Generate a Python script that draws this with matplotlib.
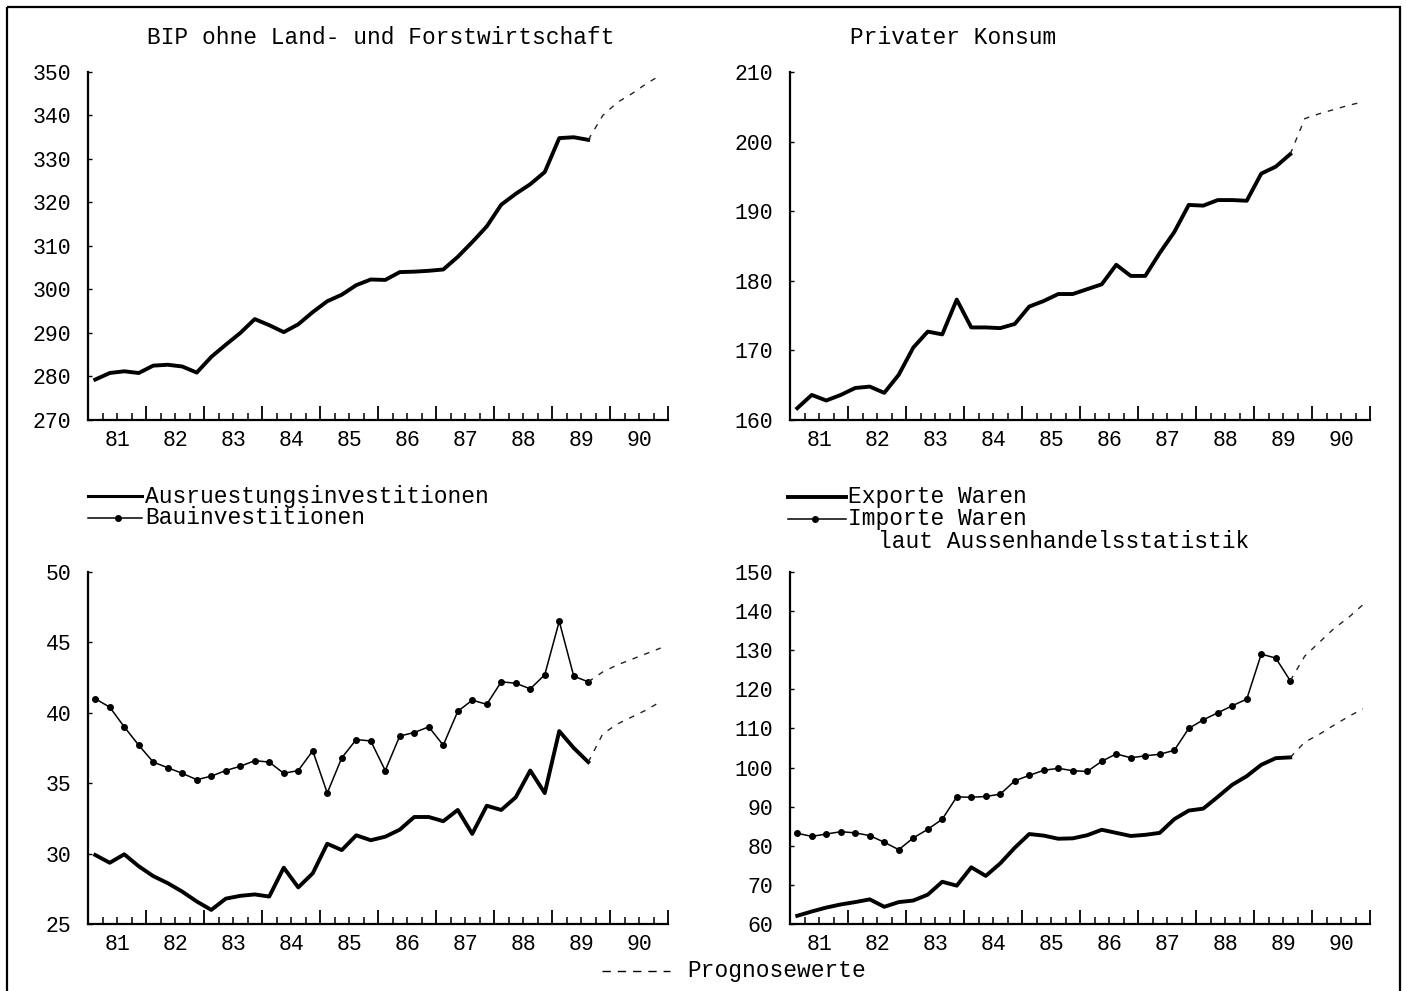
import numpy as np
import matplotlib
matplotlib.use("Agg")
import matplotlib.pyplot as plt
from matplotlib.lines import Line2D
from matplotlib.patches import Rectangle
from matplotlib.ticker import MultipleLocator

plt.rcParams['font.family'] = ['Liberation Mono', 'DejaVu Sans Mono']

# quarterly values 81Q1 .. 89Q3, drawn at the middle of each quarter
x_hist = 81.125 + 0.25 * np.arange(35)
# forecasts 89Q4 .. 90Q4 (first entry = last observed quarter)
x_fc = 81.125 + 0.25 * np.arange(34, 40)

year_labels = ['81', '82', '83', '84', '85', '86', '87', '88', '89', '90']

bip = [279.3, 280.8, 281.2, 280.8, 282.5, 282.7, 282.3, 280.9, 284.5, 287.3,
       290.0, 293.2, 291.8, 290.2, 292.0, 294.8, 297.3, 298.8, 301.0, 302.3,
       302.2, 304.0, 304.1, 304.3, 304.6, 307.5, 310.9, 314.5, 319.5, 322.0,
       324.2, 327.0, 334.8, 335.0, 334.4]
bip_fc = [334.4, 340.0, 343.0, 345.0, 347.3, 349.3]

konsum = [161.7, 163.6, 162.8, 163.6, 164.6, 164.8, 163.9, 166.5, 170.4, 172.7,
          172.3, 177.3, 173.3, 173.3, 173.2, 173.8, 176.3, 177.1, 178.1, 178.1,
          178.8, 179.5, 182.3, 180.7, 180.7, 184.0, 187.0, 190.9, 190.8, 191.6,
          191.6, 191.5, 195.4, 196.4, 198.2]
konsum_fc = [198.2, 203.3, 204.0, 204.6, 205.2, 205.7]

ausruestung = [29.9, 29.35, 29.95, 29.1, 28.4, 27.9, 27.3, 26.6, 26.0, 26.8,
               27.0, 27.1, 26.95, 29.0, 27.6, 28.6, 30.7, 30.25, 31.3, 30.95,
               31.2, 31.7, 32.6, 32.6, 32.3, 33.1, 31.4, 33.4, 33.1, 34.0,
               35.9, 34.3, 38.7, 37.5, 36.5]
ausruestung_fc = [36.5, 38.5, 39.2, 39.7, 40.2, 40.8]

bau = [41.0, 40.4, 39.0, 37.7, 36.5, 36.1, 35.7, 35.25, 35.5, 35.9,
       36.2, 36.6, 36.5, 35.7, 35.9, 37.3, 34.3, 36.8, 38.1, 38.0,
       35.9, 38.35, 38.6, 39.0, 37.7, 40.1, 40.9, 40.6, 42.2, 42.1,
       41.7, 42.7, 46.5, 42.6, 42.2]
bau_fc = [42.2, 42.9, 43.4, 43.8, 44.2, 44.6]

exporte = [62.1, 63.2, 64.2, 65.0, 65.6, 66.3, 64.4, 65.6, 66.0, 67.5,
           70.8, 69.8, 74.5, 72.3, 75.5, 79.5, 83.0, 82.6, 81.8, 81.9,
           82.7, 84.1, 83.3, 82.5, 82.8, 83.3, 86.8, 89.0, 89.5, 92.5,
           95.6, 97.8, 100.7, 102.4, 102.6]
exporte_fc = [102.6, 106.5, 108.5, 110.8, 113.0, 115.0]

importe = [83.2, 82.4, 83.0, 83.6, 83.3, 82.6, 80.9, 79.0, 82.0, 84.2,
           86.8, 92.5, 92.4, 92.6, 93.2, 96.6, 98.0, 99.3, 99.8, 99.2,
           99.0, 101.6, 103.5, 102.5, 103.0, 103.4, 104.4, 110.0, 112.2, 114.0,
           115.8, 117.5, 129.0, 128.0, 122.2]
importe_fc = [122.2, 128.5, 132.0, 135.5, 138.3, 141.6]

W, H = 1406, 991
fig = plt.figure(figsize=(W / 100, H / 100), dpi=100)
fig.patch.set_facecolor('white')

# overlay in pixel coordinates for frame, titles and legends
ov = fig.add_axes([0, 0, 1, 1])
ov.set_xlim(0, W)
ov.set_ylim(H, 0)
ov.axis('off')

TXT = 16.5
TICK = 15.5


def panel(px_left, px_top, px_bottom, ylim, ystep):
    ax = fig.add_axes([px_left / W, 1 - px_bottom / H, 580 / W, (px_bottom - px_top) / H])
    ax.patch.set_alpha(0)
    ax.set_xlim(81, 91)
    ax.set_ylim(*ylim)
    ax.set_yticks(np.arange(ylim[0], ylim[1] + ystep / 2, ystep))
    ax.xaxis.set_major_locator(MultipleLocator(1))
    ax.xaxis.set_minor_locator(MultipleLocator(0.25))
    ax.tick_params(axis='x', which='major', direction='in', length=10, width=1.3, labelbottom=False)
    ax.tick_params(axis='x', which='minor', direction='in', length=5, width=1.1)
    ax.tick_params(axis='y', direction='in', length=3, width=1, pad=12, labelsize=TICK)
    for s in ['top', 'right']:
        ax.spines[s].set_visible(False)
    for s in ['left', 'bottom']:
        ax.spines[s].set_linewidth(1.6)
    for i, lab in enumerate(year_labels):
        ax.annotate(lab, xy=(81.5 + i, 0), xycoords=('data', 'axes fraction'),
                    xytext=(0, -21), textcoords='offset pixels',
                    ha='center', va='center', fontsize=TICK)
    return ax


fc_style = dict(color='#222222', lw=1.0, dashes=(4, 5))

ax1 = panel(88, 72, 420, (270, 350), 10)
ax1.plot(x_hist, bip, color='black', lw=2.8)
ax1.plot(x_fc, bip_fc, **fc_style)

ax2 = panel(790, 72, 420, (160, 210), 10)
ax2.plot(x_hist, konsum, color='black', lw=2.8)
ax2.plot(x_fc, konsum_fc, **fc_style)

ax3 = panel(88, 572, 924, (25, 50), 5)
ax3.plot(x_hist, ausruestung, color='black', lw=2.8)
ax3.plot(x_hist, bau, color='black', lw=1.1, marker='o', markersize=4)
ax3.plot(x_fc, ausruestung_fc, **fc_style)
ax3.plot(x_fc, bau_fc, **fc_style)

ax4 = panel(790, 572, 924, (60, 150), 10)
ax4.plot(x_hist, exporte, color='black', lw=2.8)
ax4.plot(x_hist, importe, color='black', lw=1.1, marker='o', markersize=4)
ax4.plot(x_fc, exporte_fc, **fc_style)
ax4.plot(x_fc, importe_fc, **fc_style)

# frame around the whole page
ov.add_patch(Rectangle((7, 7), 1393, 995, fill=False, lw=1.6, edgecolor='black'))

# titles
ov.text(147, 38, 'BIP ohne Land- und Forstwirtschaft', fontsize=TXT, ha='left', va='center')
ov.text(850, 38, 'Privater Konsum', fontsize=TXT, ha='left', va='center')

# legends
ov.add_line(Line2D([88, 142], [496, 496], color='black', lw=2.2))
ov.add_line(Line2D([88, 142], [518, 518], color='black', lw=1.1))
ov.plot([118], [518], 'o', color='black', markersize=4)
ov.text(145, 496, 'Ausruestungsinvestitionen', fontsize=TXT, ha='left', va='center')
ov.text(145, 518, 'Bauinvestitionen', fontsize=TXT, ha='left', va='center')

ov.add_line(Line2D([788, 846], [497, 497], color='black', lw=2.8))
ov.add_line(Line2D([788, 846], [519, 519], color='black', lw=1.1))
ov.plot([815], [519], 'o', color='black', markersize=4)
ov.text(848, 497, 'Exporte Waren', fontsize=TXT, ha='left', va='center')
ov.text(848, 519, 'Importe Waren', fontsize=TXT, ha='left', va='center')
ov.text(878, 541, 'laut Aussenhandelsstatistik', fontsize=TXT, ha='left', va='center')

ov.add_line(Line2D([602, 670], [971, 971], color='black', lw=1.0, dashes=(6, 5)))
ov.text(687, 971, 'Prognosewerte', fontsize=TXT, ha='left', va='center')

fig.savefig('out.png', dpi=100, facecolor='white')
